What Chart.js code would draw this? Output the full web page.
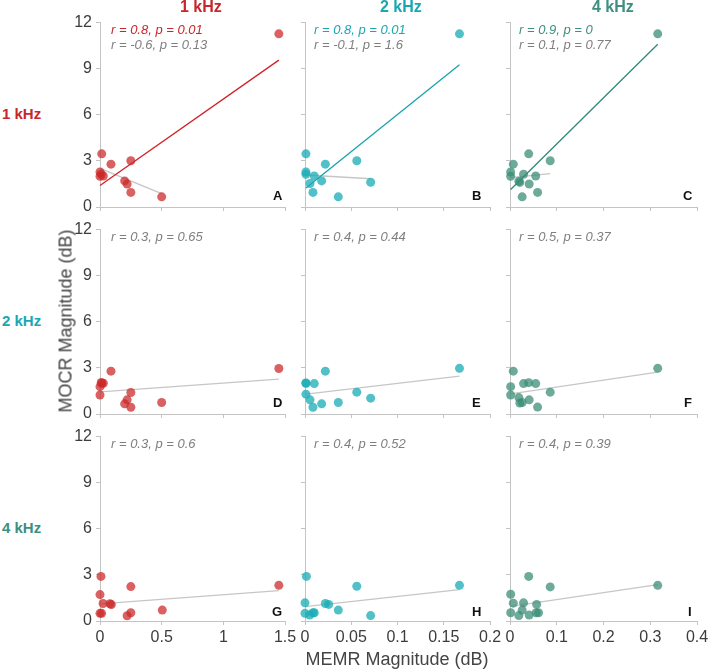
<!DOCTYPE html>
<html>
<head>
<meta charset="utf-8">
<script src="https://cdn.jsdelivr.net/npm/chart.js@4.4.1/dist/chart.umd.min.js"></script>
<style>
  body { margin: 0; background: #fff; }
  #wrap { position: relative; width: 708px; height: 670px; overflow: hidden; font-family: "Liberation Sans", Arial, Helvetica, sans-serif; }
  #wrap canvas { position: absolute; }
  .txt { position: absolute; white-space: nowrap; }
  .freq { font-weight: bold; font-size: 15px; line-height: 18px; }
  .stat { font-style: italic; font-size: 13px; line-height: 15px; color: #7f7f7f; }
  .letter { font-weight: bold; font-size: 13px; line-height: 13px; color: #111; }
  .axtitle { font-size: 18px; line-height: 20px; color: #444; }
</style>
</head>
<body>
<div id="wrap"></div>
<script>
// ---- data ----
const freqs = ['1 kHz', '2 kHz', '4 kHz'];
const yTickLabels = ['0', '3', '6', '9', '12'];
const xTickLabels1k = ['0', '0.5', '1', '1.5'];
const xTickLabels2k = ['0', '0.05', '0.1', '0.15', '0.2'];
const xTickLabels4k = ['0', '0.1', '0.2', '0.3', '0.4'];
const xMax = [1.5, 0.2, 0.4];
const xStep = [0.5, 0.05, 0.1];

// row 1 (MOCR 1 kHz)
const aX = [0, 0, 0.014, 0.01, 0.027, 0.089, 0.25, 0.20, 0.22, 0.25, 0.50, 1.45];
const aY = [2.28, 2.0, 3.46, 2.13, 2.02, 2.79, 3.01, 1.70, 1.50, 0.95, 0.66, 11.27];
const bX = [0.001, 0.001, 0.001, 0.010, 0.0054, 0.018, 0.022, 0.0086, 0.036, 0.056, 0.071, 0.167];
const bY = [3.46, 2.28, 2.13, 2.02, 1.53, 1.70, 2.79, 0.95, 0.66, 3.01, 1.61, 11.27];
const cX = [0.0014, 0.0014, 0.007, 0.040, 0.029, 0.019, 0.021, 0.041, 0.055, 0.086, 0.059, 0.026, 0.316];
const cY = [2.28, 2.0, 2.79, 3.46, 2.13, 1.68, 1.60, 1.50, 2.02, 3.01, 0.95, 0.66, 11.27];
// row 2 (MOCR 2 kHz)
const dX = [0, 0, 0.014, 0.027, 0.089, 0.25, 0.22, 0.20, 0.25, 0.50, 1.45, 0.01];
const dY = [1.24, 1.78, 2.0, 2.0, 2.79, 1.40, 0.92, 0.66, 0.44, 0.75, 2.96, 2.05];
const eX = [0.001, 0.001, 0.010, 0.001, 0.0054, 0.0086, 0.018, 0.022, 0.036, 0.056, 0.071, 0.167];
const eY = [2.0, 2.02, 1.98, 1.29, 0.92, 0.44, 0.66, 2.79, 0.75, 1.42, 1.03, 2.97];
const fX = [0.0014, 0.0014, 0.007, 0.029, 0.040, 0.055, 0.019, 0.021, 0.026, 0.041, 0.086, 0.059, 0.316];
const fY = [1.78, 1.24, 2.79, 1.98, 2.04, 1.98, 1.07, 0.71, 0.75, 0.92, 1.42, 0.45, 2.97];
// row 3 (MOCR 4 kHz)
const gX = [0.008, 0, 0.025, 0.081, 0.092, 0, 0.013, 0.25, 0.22, 0.25, 0.505, 1.45];
const gY = [2.9, 1.72, 1.14, 1.12, 1.07, 0.5, 0.5, 2.24, 0.34, 0.54, 0.71, 2.32];
const hX = [0.0015, 0, 0, 0.005, 0.0086, 0.010, 0.022, 0.0256, 0.036, 0.056, 0.071, 0.167];
const hY = [2.9, 1.18, 0.5, 0.39, 0.54, 0.54, 1.14, 1.08, 0.71, 2.26, 0.35, 2.32];
const iX = [0.0015, 0.007, 0.0015, 0.029, 0.026, 0.019, 0.040, 0.041, 0.057, 0.056, 0.061, 0.086, 0.316];
const iY = [1.74, 1.16, 0.54, 1.18, 0.71, 0.35, 2.9, 0.39, 1.08, 0.54, 0.54, 2.22, 2.32];

const statsColored = ['r = 0.8, p = 0.01', 'r = 0.8, p = 0.01', 'r = 0.9, p = 0'];
const statsGray = [
  ['r = -0.6, p = 0.13', 'r = -0.1, p = 1.6', 'r = 0.1, p = 0.77'],
  ['r = 0.3, p = 0.65', 'r = 0.4, p = 0.44', 'r = 0.5, p = 0.37'],
  ['r = 0.3, p = 0.6', 'r = 0.4, p = 0.52', 'r = 0.4, p = 0.39']
];
const letters = [['A', 'B', 'C'], ['D', 'E', 'F'], ['G', 'H', 'I']];

// ---- layout & style ----
const family = '"Liberation Sans", Arial, Helvetica, sans-serif';
const textColors = ['#c8262b', '#1aa7b1', '#3d8f7f'];
const lineColors = ['#d0222a', '#17a3ad', '#2f8a76'];
const pointColors = ['rgba(204,42,42,0.74)', 'rgba(26,172,182,0.76)', 'rgba(58,140,118,0.74)'];
const areaLeft = [100, 305, 510];
const areaRight = [285, 490, 697];
const areaTop = [21, 228, 435];
const areaBottom = [207, 414, 621];
const padL = 45, padT = 12, padR = 16, padB = 35;

const panelX = [[aX, bX, cX], [dX, eX, fX], [gX, hX, iX]];
const panelY = [[aY, bY, cY], [dY, eY, fY], [gY, hY, iY]];
const xTickLabels = [xTickLabels1k, xTickLabels2k, xTickLabels4k];

const wrap = document.getElementById('wrap');

function fitLine(xs, ys) {
  const n = xs.length;
  const mx = xs.reduce((s, v) => s + v, 0) / n;
  const my = ys.reduce((s, v) => s + v, 0) / n;
  let sxy = 0, sxx = 0;
  for (let i = 0; i < n; i++) {
    sxy += (xs[i] - mx) * (ys[i] - my);
    sxx += (xs[i] - mx) * (xs[i] - mx);
  }
  const b = sxy / sxx, a = my - b * mx;
  const x0 = Math.min(...xs), x1 = Math.max(...xs);
  return [{ x: x0, y: a + b * x0 }, { x: x1, y: a + b * x1 }];
}

function addText(cls, text, style) {
  const d = document.createElement('div');
  d.className = 'txt ' + cls;
  d.textContent = text;
  Object.assign(d.style, style);
  wrap.appendChild(d);
  return d;
}

function addPanel(r, c) {
  const xs = panelX[r][c], ys = panelY[r][c];
  const w = areaRight[c] - areaLeft[c] + padL + padR;
  const h = areaBottom[r] - areaTop[r] + padT + padB;
  const canvas = document.createElement('canvas');
  canvas.width = w;
  canvas.height = h;
  canvas.style.left = (areaLeft[c] - padL) + 'px';
  canvas.style.top = (areaTop[r] - padT) + 'px';
  canvas.style.width = w + 'px';
  canvas.style.height = h + 'px';
  wrap.appendChild(canvas);

  // gray fit: row 1 leaves out the largest MEMR point
  let gx = xs, gy = ys;
  if (r === 0) {
    const k = xs.indexOf(Math.max(...xs));
    gx = xs.filter((v, i) => i !== k);
    gy = ys.filter((v, i) => i !== k);
  }
  const datasets = [{
    type: 'line', data: fitLine(gx, gy), borderColor: '#c6c6c6', borderWidth: 1.3,
    pointRadius: 0, clip: false, order: 3
  }];
  if (r === 0) {
    datasets.push({
      type: 'line', data: fitLine(xs, ys), borderColor: lineColors[c], borderWidth: 1.3,
      pointRadius: 0, clip: false, order: 2
    });
  }
  datasets.push({
    type: 'scatter', data: xs.map((x, i) => ({ x: x, y: ys[i] })),
    backgroundColor: pointColors[c], borderWidth: 0, pointRadius: 4.5, clip: false, order: 1
  });

  new Chart(canvas.getContext('2d'), {
    type: 'scatter',
    data: { datasets: datasets },
    options: {
      responsive: false,
      animation: false,
      layout: { padding: { left: 0, top: padT, right: padR, bottom: 0 }, autoPadding: false },
      plugins: { legend: { display: false }, tooltip: { enabled: false } },
      scales: {
        x: {
          type: 'linear', min: 0, max: xMax[c],
          afterFit: s => { s.height = padB; },
          border: { color: '#c4c4c4', width: 1 },
          grid: { drawOnChartArea: false, drawTicks: true, tickLength: 4, color: '#c4c4c4' },
          ticks: {
            stepSize: xStep[c], autoSkip: false, maxRotation: 0, padding: 3,
            color: r === 2 ? '#3c3c3c' : 'rgba(0,0,0,0)',
            font: { family: family, size: 16 },
            callback: (v, i) => xTickLabels[c][i]
          }
        },
        y: {
          type: 'linear', min: 0, max: 12,
          afterFit: s => { s.width = padL; },
          border: { color: '#c4c4c4', width: 1 },
          grid: { drawOnChartArea: false, drawTicks: true, tickLength: 4, color: '#c4c4c4' },
          ticks: {
            stepSize: 3, padding: 4,
            color: c === 0 ? '#3c3c3c' : 'rgba(0,0,0,0)',
            font: { family: family, size: 16 },
            callback: (v, i) => yTickLabels[i]
          }
        }
      }
    }
  });

  // stats text
  const statLeft = [111, 314, 519];
  let top = areaTop[r] + 0.5;
  if (r === 0) {
    addText('stat', statsColored[c], { left: statLeft[c] + 'px', top: top + 'px', color: textColors[c] });
    top += 15;
  }
  addText('stat', statsGray[r][c], { left: statLeft[c] + 'px', top: top + 'px' });

  // panel letter
  const letterRight = [282, 481, 692];
  const letterBase = [200, 407, 616];
  const L = addText('letter', letters[r][c], { top: (letterBase[r] - 11) + 'px' });
  L.style.left = (letterRight[c] - L.offsetWidth) + 'px';
}

for (let r = 0; r < 3; r++) {
  for (let c = 0; c < 3; c++) addPanel(r, c);
}

// column titles & row labels
const colCenters = [201, 401, 613];
freqs.forEach((f, c) => {
  const t = addText('freq', f, { top: '-2px', color: textColors[c], fontSize: '16px' });
  t.style.left = (colCenters[c] - t.offsetWidth / 2) + 'px';
});
freqs.forEach((f, r) => {
  const mid = (areaTop[r] + areaBottom[r]) / 2;
  addText('freq', f, { left: '2px', top: (mid - 9) + 'px', color: textColors[r] });
});

// axis titles
const xt = addText('axtitle', 'MEMR Magnitude (dB)', { top: '649px' });
xt.style.left = (397 - xt.offsetWidth / 2) + 'px';
const yt = addText('axtitle', 'MOCR Magnitude (dB)', {});
yt.style.left = (65 - yt.offsetWidth / 2) + 'px';
yt.style.top = (321 - 10) + 'px';
yt.style.transform = 'rotate(-90deg)';
</script>
</body>
</html>
